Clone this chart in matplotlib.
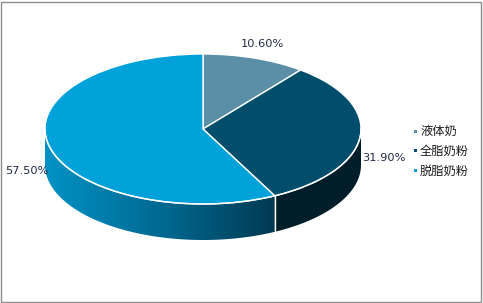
import numpy as np
import matplotlib.pyplot as plt
from matplotlib.patches import Polygon, Rectangle
from matplotlib.colors import LinearSegmentedColormap

plt.rcParams['font.family'] = ['Noto Sans CJK SC', 'DejaVu Sans']

labels = ['液体奶', '全脂奶粉', '脱脂奶粉']
values = [10.6, 31.9, 57.5]
top_colors = ['#5b8fa8', '#004e6b', '#00a2d9']

W, H = 483, 303
cx, cy = 203, 129      # ellipse centre in pixels
rx, ry = 158, 75       # ellipse radii in pixels
depth = 36 / ry        # side height in y units

fig = plt.figure(figsize=(W / 100, H / 100), dpi=100)
ax = fig.add_axes([0, 0, 1, 1])

ax.pie(values, colors=top_colors, startangle=90, counterclock=False,
       radius=1, wedgeprops=dict(edgecolor='white', linewidth=1.0, zorder=3))
ax.set_aspect('auto')
ax.set_xlim(-cx / rx, (W - cx) / rx)
ax.set_ylim(-(H - cy) / ry, cy / ry)
ax.axis('off')

# slice angles (degrees, math convention)
bounds = 90 - np.concatenate([[0], np.cumsum(values)]) / sum(values) * 360

grad = LinearSegmentedColormap.from_list('side', ['#0092c6', '#006a92', '#003a52'])

for i in range(len(values)):
    a0, a1 = bounds[i + 1], bounds[i]
    lo2, hi2 = max(a0, -180), min(a1, 0)
    if hi2 <= lo2:
        continue
    t = np.radians(np.linspace(lo2, hi2, 120))
    xs = np.cos(t)
    ys = np.sin(t)
    pts = np.concatenate([np.column_stack([xs, ys]),
                          np.column_stack([xs[::-1], ys[::-1] - depth])])
    if i == 2:
        poly = Polygon(pts, closed=True, transform=ax.transData, facecolor='none', edgecolor='none')
        ax.add_patch(poly)
        g = np.linspace(0, 1, 256).reshape(1, -1)
        x_end = xs.max()
        im = ax.imshow(g, cmap=grad, extent=(-1, x_end, -1 - depth, 0.1),
                       aspect='auto', zorder=1, interpolation='bilinear')
        im.set_clip_path(poly)
    else:
        ax.add_patch(Polygon(pts, closed=True, facecolor='#001e2a',
                             edgecolor='none', zorder=1))

# white edge of the top rim on the front and slice seam on the side
t = np.radians(np.linspace(-180, 0, 200))
ax.plot(np.cos(t), np.sin(t), color='white', lw=1.0, zorder=4)
for b in bounds:
    if -180 < ((b + 180) % 360) - 180 < 0:
        bb = np.radians(b)
        ax.plot([np.cos(bb)] * 2, [np.sin(bb), np.sin(bb) - depth],
                color='white', lw=1.0, zorder=4)

# percentage labels
mids = (bounds[:-1] + bounds[1:]) / 2
for v, m in zip(values, mids):
    mr = np.radians(m)
    lx = 1.15 * np.cos(mr)
    ly = 1.2 * np.sin(mr)
    if ly < 0:
        ly -= 0.57 * depth
    ax.text(lx, ly, f'{v:.2f}%', ha='center', va='center',
            fontsize=8.2, color='#1f2a44', family=['DejaVu Sans'])

# legend
leg_x = 415 / W
for k, (lab, col) in enumerate(zip(labels, top_colors)):
    ly = 1 - (131 + 20 * k) / H
    fig.patches.append(Rectangle((leg_x - 1.5 / W, ly - 1.5 / H), 3 / W, 3 / H,
                                 transform=fig.transFigure, facecolor=col,
                                 edgecolor='none'))
    fig.text(leg_x + 5 / W, ly, lab, ha='left', va='center',
             fontsize=8.8, color='#1a1a1a')

fig.patches.append(Rectangle((1 / W, 1 / H), 1 - 3 / W, 1 - 3 / H,
                             transform=fig.transFigure, facecolor='none',
                             edgecolor='#8c8c8c', linewidth=1))

fig.savefig('out.png', dpi=100)
